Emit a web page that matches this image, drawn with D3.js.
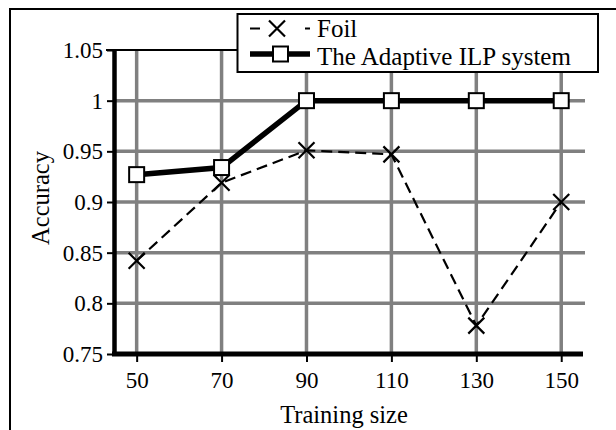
<!DOCTYPE html>
<html>
<head>
<meta charset="utf-8">
<script src="https://cdn.jsdelivr.net/npm/d3@7"></script>
<style>
  body { margin: 0; background: #fff; }
</style>
</head>
<body>
<div id="chart"></div>
<script>
let sizes = [50, 70, 90, 110, 130, 150];
let foil_acc = [0.842, 0.919, 0.951, 0.947, 0.778, 0.900];
let ilp_acc = [0.927, 0.934, 1.0, 1.0, 1.0, 1.0];
let y_ticks = [0.75, 0.8, 0.85, 0.9, 0.95, 1, 1.05];
let series_names = ["Foil", "The Adaptive ILP system"];

let width = 616, height = 430;
let grey = "rgb(128,128,128)";
let font_serif = "'Liberation Serif', monospace";

let svg = d3.select("#chart").append("svg")
  .attr("width", width)
  .attr("height", height);

// outer frame, only left and top visible
svg.append("path")
  .attr("d", "M10,440 L10,9 L630,9")
  .attr("fill", "none")
  .attr("stroke", "#000")
  .attr("stroke-width", 2);

let x = d3.scaleLinear().domain([44.9, 155.6]).range([115, 585]);
let y = d3.scaleLinear().domain([0.75, 1.05]).range([354, 50]);

// grid
svg.append("g").selectAll("line.hgrid")
  .data(y_ticks.filter(d => d > 0.75 && d < 1.05))
  .enter().append("line")
  .attr("x1", x.range()[0]).attr("x2", x.range()[1])
  .attr("y1", d => y(d)).attr("y2", d => y(d))
  .attr("stroke", grey).attr("stroke-width", 3.5);

svg.append("g").selectAll("line.vgrid")
  .data(sizes)
  .enter().append("line")
  .attr("x1", d => x(d)).attr("x2", d => x(d))
  .attr("y1", y(1.05)).attr("y2", y(0.75))
  .attr("stroke", grey).attr("stroke-width", 3.5);

// top border of plot
svg.append("line")
  .attr("x1", 106).attr("x2", x.range()[1])
  .attr("y1", y(1.05)).attr("y2", y(1.05))
  .attr("stroke", "#000").attr("stroke-width", 2);

// axes
let yAxis = svg.append("g")
  .attr("transform", "translate(" + x.range()[0] + ",0)")
  .call(d3.axisLeft(y).tickValues(y_ticks).tickSize(8).tickPadding(4)
    .tickFormat(d => d3.format("")(d)));
yAxis.attr("font-family", null).attr("font-size", null);
yAxis.select(".domain").remove();
yAxis.selectAll(".tick line").attr("stroke", "#000").attr("stroke-width", 2);
yAxis.selectAll(".tick text")
  .attr("fill", "#000")
  .attr("font-size", 23)
  .style("font-family", font_serif);

let xAxis = svg.append("g")
  .attr("transform", "translate(0," + y.range()[0] + ")")
  .call(d3.axisBottom(x).tickValues(sizes).tickSize(8).tickPadding(10));
xAxis.attr("font-family", null).attr("font-size", null);
xAxis.select(".domain").remove();
xAxis.selectAll(".tick line").attr("stroke", "#000").attr("stroke-width", 2);
xAxis.selectAll(".tick text")
  .attr("fill", "#000")
  .attr("font-size", 23)
  .style("font-family", font_serif);

// thick axis lines
svg.append("line")
  .attr("x1", 114.5).attr("x2", 114.5)
  .attr("y1", y(1.05) - 1).attr("y2", y.range()[0] + 2)
  .attr("stroke", "#000").attr("stroke-width", 4.5);
svg.append("line")
  .attr("x1", 112).attr("x2", 583)
  .attr("y1", y.range()[0]).attr("y2", y.range()[0])
  .attr("stroke", "#000").attr("stroke-width", 5);

// axis titles
svg.append("text")
  .attr("x", (x.range()[0] + x.range()[1]) / 2 - 6)
  .attr("y", 423)
  .attr("text-anchor", "middle")
  .attr("font-size", 24.5)
  .style("font-family", font_serif)
  .text("Training size");

svg.append("text")
  .attr("transform", "translate(49," + ((y.range()[0] + y.range()[1]) / 2 - 4) + ") rotate(-90)")
  .attr("text-anchor", "middle")
  .attr("font-size", 24.5)
  .style("font-family", font_serif)
  .text("Accuracy");

// series
let line = d3.line()
  .x(d => x(d[0]))
  .y(d => y(d[1]));

let foil_pts = sizes.map((s, i) => [s, foil_acc[i]]);
let ilp_pts = sizes.map((s, i) => [s, ilp_acc[i]]);

svg.append("path")
  .datum(foil_pts)
  .attr("d", line)
  .attr("fill", "none")
  .attr("stroke", "#000")
  .attr("stroke-width", 2.2)
  .attr("stroke-dasharray", "11,6");

svg.append("path")
  .datum(ilp_pts)
  .attr("d", line)
  .attr("fill", "none")
  .attr("stroke", "#000")
  .attr("stroke-width", 5.5);

function drawCross(g, cx, cy) {
  let r = 8;
  g.append("path")
    .attr("d", "M" + (cx - r) + "," + (cy - r) + "L" + (cx + r) + "," + (cy + r) +
      "M" + (cx - r) + "," + (cy + r) + "L" + (cx + r) + "," + (cy - r))
    .attr("stroke", "#000").attr("stroke-width", 2.2).attr("fill", "none");
}

function drawSquare(g, cx, cy) {
  let s = 15;
  g.append("rect")
    .attr("x", cx - s / 2).attr("y", cy - s / 2)
    .attr("width", s).attr("height", s)
    .attr("fill", "#fff").attr("stroke", "#000").attr("stroke-width", 2);
}

let marks = svg.append("g");
foil_pts.forEach(d => drawCross(marks, x(d[0]), y(d[1])));
ilp_pts.forEach(d => drawSquare(marks, x(d[0]), y(d[1])));

// legend
let legend = svg.append("g");
legend.append("rect")
  .attr("x", 237.5).attr("y", 14)
  .attr("width", 360.5).attr("height", 58)
  .attr("fill", "#fff").attr("stroke", "#000").attr("stroke-width", 2);

// dashed sample: one dash each side of the cross
legend.append("line")
  .attr("x1", 250).attr("x2", 310)
  .attr("y1", 28.5).attr("y2", 28.5)
  .attr("stroke", "#000").attr("stroke-width", 2.2)
  .attr("stroke-dasharray", "10,45,5");
drawCross(legend, 277, 28.5);

legend.append("line")
  .attr("x1", 250).attr("x2", 310)
  .attr("y1", 54).attr("y2", 54)
  .attr("stroke", "#000").attr("stroke-width", 5.5);
drawSquare(legend, 280.5, 54);

legend.selectAll("text.lbl")
  .data(series_names)
  .enter().append("text")
  .attr("x", 317)
  .attr("y", (d, i) => 37 + i * 28)
  .attr("font-size", 25)
  .style("font-family", font_serif)
  .text(d => d);
</script>
</body>
</html>
